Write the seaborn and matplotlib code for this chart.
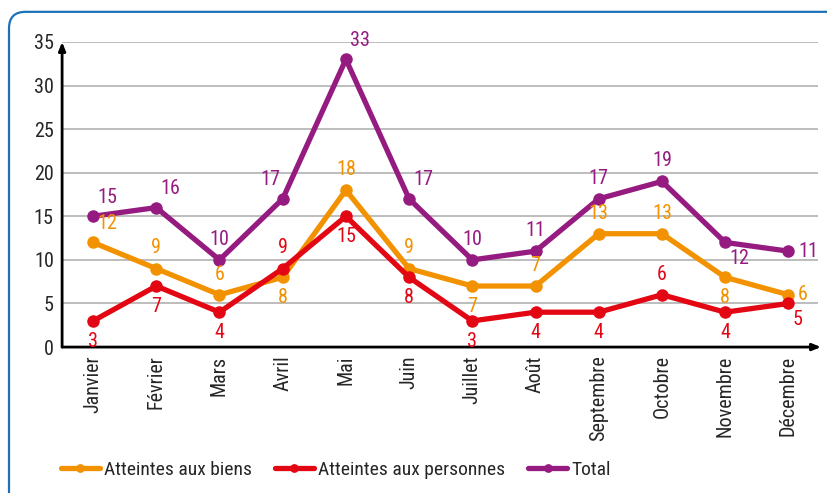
import numpy as np
import pandas as pd
import matplotlib
matplotlib.use("Agg")
import matplotlib.pyplot as plt
from matplotlib.patches import FancyBboxPatch
import seaborn as sns

# ---------------- data ----------------
months = ["Janvier", "Février", "Mars", "Avril", "Mai", "Juin", "Juillet",
          "Août", "Septembre", "Octobre", "Novembre", "Décembre"]
biens = [12, 9, 6, 8, 18, 9, 7, 7, 13, 13, 8, 6]
personnes = [3, 7, 4, 9, 15, 8, 3, 4, 4, 6, 4, 5]
total = [15, 16, 10, 17, 33, 17, 10, 11, 17, 19, 12, 11]

series_names = ["Atteintes aux biens", "Atteintes aux personnes", "Total"]
colors = ["#F39200", "#E30613", "#951B81"]

# label placement per point: a=above, b=below, r=right, ar=above-right, al=above-left, br=below-right
place_biens = ["ar", "a", "a", "b", "a", "a", "b", "a", "a", "a", "b", "r"]
place_pers = ["b", "b", "b", "a", "b", "b", "b", "b", "b", "a", "b", "br"]
place_total = ["ar", "ar", "a", "al", "ar", "ar", "a", "a", "a", "a", "br", "r"]

offsets = {"a": (0, 8, "center", "bottom"),
           "b": (0, -8, "center", "top"),
           "r": (7, 0, "left", "center"),
           "ar": (3, 7, "left", "bottom"),
           "al": (-2, 7, "right", "bottom"),
           "br": (3, -5, "left", "top")}

df = pd.DataFrame({
    "x": list(range(len(months))) * 3,
    "value": biens + personnes + total,
    "serie": np.repeat(series_names, len(months)),
})

sns.set_style("white")
plt.rcParams["font.family"] = ["Roboto Condensed", "DejaVu Sans"]

fig = plt.figure(figsize=(8.28, 4.93), dpi=100)
ax = fig.add_axes([0.075, 0.296, 0.913, 0.619])

# blue rounded frame (runs off right and bottom edges)
frame = FancyBboxPatch((9 / 828, -0.1), 1.1, 0.976 + 0.1,
                       boxstyle="round,pad=0,rounding_size=0.02",
                       transform=fig.transFigure, fill=False,
                       edgecolor="#1D71B8", linewidth=1.6, clip_on=False,
                       mutation_aspect=828 / 493)
fig.patches.append(frame)

for y in range(5, 40, 5):
    ax.axhline(y, color="#BDBDBD", lw=1.4, zorder=0)

sns.lineplot(data=df, x="x", y="value", hue="serie", palette=colors,
             hue_order=series_names, marker="o", markersize=9,
             markeredgewidth=0, linewidth=3.8, sort=False, ax=ax,
             zorder=3)

for vals, place, col in [(biens, place_biens, colors[0]),
                         (personnes, place_pers, colors[1]),
                         (total, place_total, colors[2])]:
    for i, (v, p) in enumerate(zip(vals, place)):
        dx, dy, ha, va = offsets[p]
        ax.annotate(str(v), (i, v), xytext=(dx, dy), textcoords="offset points",
                    ha=ha, va=va, color=col, fontsize=14.5, zorder=5)

ax.set_xlim(-0.49, 11.47)
ax.set_ylim(0, 35)
ax.set_xticks(range(len(months)))
ax.set_xticklabels(months, rotation=90, fontsize=14.5)
ax.set_yticks(range(0, 40, 5))
ax.tick_params(axis="y", labelsize=14.5, length=0, pad=6)
ax.tick_params(axis="x", length=0, pad=6)
ax.set_xlabel("")
ax.set_ylabel("")

for s in ["top", "right", "left", "bottom"]:
    ax.spines[s].set_visible(False)

# axes with arrows
ax.annotate("", xy=(0, 1.0), xytext=(0, 0), xycoords="axes fraction",
            arrowprops=dict(arrowstyle="-|>,head_length=0.5,head_width=0.2",
                            color="black", lw=2, shrinkA=0, shrinkB=0))
ax.annotate("", xy=(1.004, 0), xytext=(0, 0), xycoords="axes fraction",
            arrowprops=dict(arrowstyle="-|>,head_length=0.5,head_width=0.2",
                            color="black", lw=2, shrinkA=0, shrinkB=0))

ax.legend(loc="center left", bbox_to_anchor=(-0.012, -0.403), ncol=3,
          frameon=False, fontsize=14, handlelength=2.0, handletextpad=0.2,
          columnspacing=1.2, borderaxespad=0, markerscale=0.7)

fig.savefig("out.png", dpi=100)
